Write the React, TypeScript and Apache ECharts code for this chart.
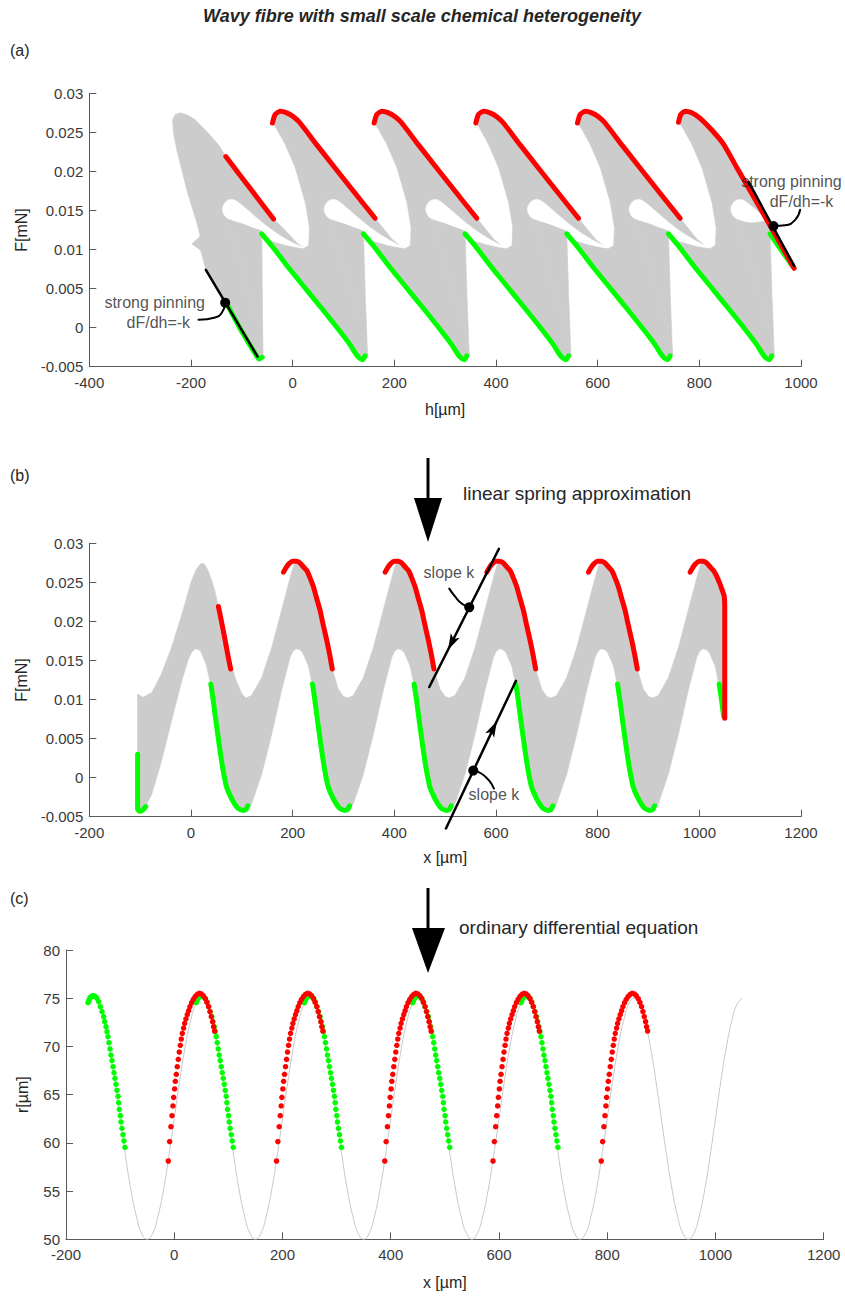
import React, { useEffect, useRef } from "react";
import * as echarts from "echarts";

type Pt = [number, number];

// ================= Panel (a): F [mN] vs h [µm] =================
const aUpperFirst: Pt[] = [
  [-170.7, 0.0074], [-181, 0.0099], [-198.3, 0.0107], [-182, 0.0117], [-188.4, 0.0134],
  [-198.3, 0.0155], [-208.1, 0.0176], [-218, 0.0202], [-227.8, 0.0227], [-234.3, 0.0249],
  [-236.3, 0.0266], [-231, 0.0273], [-221, 0.0275], [-206, 0.0272], [-191.7, 0.0266],
  [-165.5, 0.0249], [-145.8, 0.0234], [-131.4, 0.0219], [-84.5, 0.0179], [-37.6, 0.0139],
  [-19.7, 0.0128], [10.8, 0.0107],
];
const aUpperLobe: Pt[] = [
  [23, 0.0102], [31.5, 0.0105], [33, 0.0128], [25, 0.016], [5, 0.0205], [-15, 0.0235],
  [-32, 0.0255], [-39.7, 0.0262], [-34.4, 0.0273], [-24.6, 0.0277], [-11.5, 0.0275],
  [1.6, 0.027], [14.7, 0.0262], [47.5, 0.0234], [80.3, 0.0207], [113.1, 0.018],
  [162.3, 0.014], [195.8, 0.0113], [213.3, 0.0104],
];
const aUpperLast: Pt[] = [
  [823, 0.0102], [831.5, 0.0105], [833, 0.0128], [825, 0.016], [805, 0.0205], [785, 0.0235],
  [768, 0.0255], [759, 0.0263], [763.6, 0.0273], [772.1, 0.0277], [785.2, 0.0275],
  [801.6, 0.0268], [824.5, 0.0253], [847.5, 0.0235], [873.7, 0.0205], [906.5, 0.0168],
  [945.9, 0.0123], [986.5, 0.0076],
];
const aLowerFirst: Pt[] = [
  [-69.2, -0.0043], [-58.3, -0.0038], [-59.5, -0.0021], [-75.5, 0.0021], [-98.8, 0.0073],
  [-121.3, 0.0124], [-131.7, 0.0152], [-129.5, 0.0165], [-107.7, 0.0158], [-66.3, 0.0124],
  [-60.7, 0.012], [-37.7, 0.0102], [-5.9, 0.0075], [27.9, 0.0048], [60.6, 0.0022],
  [93.4, -0.0005], [113.1, -0.0022], [124.9, -0.0034], [131.5, -0.0039], [138, -0.0042],
];
const aLowerLobe: Pt[] = [
  [147.3, -0.0034], [135.7, 0.0004], [112.3, 0.0056], [85.5, 0.0111], [66.7, 0.0154],
  [69.5, 0.0165], [93.2, 0.0157], [133.7, 0.0124], [139.3, 0.012], [162.3, 0.0102],
  [194.1, 0.0075], [227.9, 0.0048], [260.6, 0.0022], [293.4, -0.0005], [313.1, -0.0022],
  [324.9, -0.0034], [331.5, -0.0039], [338, -0.0042],
];
const aLowerLast: Pt[] = [
  [947.3, -0.0034], [935.7, 0.0004], [912.3, 0.0056], [885.5, 0.0111], [866.7, 0.0154],
  [869.5, 0.0165], [893.2, 0.0157], [933.7, 0.0124], [939.3, 0.012], [960, 0.01], [986.5, 0.0076],
];
const aLobeShifts = [0, 200, 400, 600];

// gray fill between the fingers below each lobe, and the white teardrops inside the band
const aFillFirst: Pt[] = [
  [-69.2, -0.0043], [-59.5, -0.0021], [-75.5, 0.0021], [-98.8, 0.0073], [-121.3, 0.0124],
  [-131.7, 0.0152], [-129.5, 0.0165], [-107.7, 0.0158], [-66.3, 0.0124], [-60.7, 0.012],
  [-59.5, 0.004], [-58.3, -0.0038],
];
const aFillLobe: Pt[] = [
  [147.3, -0.0034], [135.7, 0.0004], [112.3, 0.0056], [85.5, 0.0111], [66.7, 0.0154],
  [69.5, 0.0165], [93.2, 0.0157], [133.7, 0.0124], [139.3, 0.012], [143, 0.004], [147.3, -0.0034],
];
const aFillShifts = [0, 200, 400, 600, 800];
const aTeardrop: Pt[] = [
  [62, 0.0152], [66, 0.0159], [73, 0.0163], [82, 0.0164], [92, 0.0161], [105, 0.0154],
  [130, 0.014], [155, 0.0127], [180, 0.0116], [205, 0.0107], [223, 0.0102], [200, 0.0104],
  [175, 0.0108], [150, 0.0114], [139, 0.0124], [120, 0.0129], [100, 0.0134], [85, 0.0137],
  [72, 0.014], [65, 0.0145],
];
const aTeardropShifts = [-200, 0, 200, 400, 600];
const aTeardropLast: Pt[] = [
  [862, 0.0152], [866, 0.0159], [873, 0.0163], [882, 0.0164], [892, 0.0161], [905, 0.0154],
  [922, 0.0145], [932, 0.0139], [918, 0.0136], [900, 0.0135], [885, 0.0137], [872, 0.014], [865, 0.0145],
];

const aRedFirst: Pt[] = [[-131.4, 0.0219], [-84.5, 0.0179], [-37.6, 0.0139]];
const aRedLobe: Pt[] = [
  [-39.7, 0.0262], [-34.4, 0.0273], [-24.6, 0.0277], [-11.5, 0.0275], [1.6, 0.027],
  [14.7, 0.0262], [47.5, 0.0234], [80.3, 0.0207], [113.1, 0.018], [162.3, 0.014],
];
const aRedLast: Pt[] = [
  [759, 0.0263], [763.6, 0.0273], [772.1, 0.0277], [785.2, 0.0275], [801.6, 0.0268],
  [824.5, 0.0253], [847.5, 0.0235], [873.7, 0.0205], [906.5, 0.0168], [945.9, 0.0123], [986.5, 0.0076],
];
const aRedShifts = [0, 200, 400, 600];
const aGreenFirst: Pt[] = [[-130, 0.0031], [-100, -0.0005], [-70, -0.0037], [-65, -0.004], [-60, -0.0038]];
const aGreenLobe: Pt[] = [
  [-60.7, 0.012], [-37.7, 0.0102], [-5.9, 0.0075], [27.9, 0.0048], [60.6, 0.0022],
  [93.4, -0.0005], [113.1, -0.0022], [124.9, -0.0034], [131.5, -0.0039], [138, -0.0041], [142.6, -0.0036],
];
const aGreenLast: Pt[] = [[939.3, 0.012], [955, 0.0105], [970, 0.0091], [983, 0.0079]];
const aGreenShifts = [0, 200, 400, 600, 800];

const aPinLeft: Pt[] = [[-170.7, 0.0074], [-69.1, -0.0037]];
const aPinRight: Pt[] = [[896.7, 0.0187], [986.5, 0.0079]];
const aPinDots: Pt[] = [[-132.7, 0.0032], [945.9, 0.013]];
const aLeaderLeft: Pt[] = [[-132.7, 0.0032], [-139.3, 0.0019], [-152.4, 0.0013], [-185.2, 0.001]];
const aLeaderRight: Pt[] = [[945.9, 0.013], [968.8, 0.0131], [988.5, 0.0138], [998.3, 0.0151]];

// ================= Panel (b): F [mN] vs x [µm] =================
const bUpperFirst: Pt[] = [
  [-105, 0.0107], [-94, 0.0103], [-77, 0.0109], [-58, 0.0133], [-38, 0.0167], [-18, 0.0209],
  [1, 0.0252], [10, 0.0266], [15, 0.0271], [20, 0.0274], [25, 0.0274], [30, 0.027], [35, 0.0263],
  [41, 0.0252], [47, 0.0239], [60, 0.0201], [73, 0.0162], [87, 0.0128], [100, 0.0107],
];
const bUpperHump: Pt[] = [
  [108, 0.0102], [119, 0.0105], [139, 0.0128], [159, 0.0167], [178, 0.0214], [195, 0.0256],
  [202, 0.0272], [207, 0.0276], [214, 0.0275], [228, 0.0266], [241, 0.0244], [254, 0.0215],
  [267, 0.0176], [278, 0.0139], [290, 0.0113], [300, 0.0104],
];
const bUpperLast: Pt[] = [
  [908, 0.0102], [919, 0.0105], [939, 0.0128], [959, 0.0167], [978, 0.0214], [995, 0.0256],
  [1002, 0.0272], [1007, 0.0276], [1014, 0.0275], [1028, 0.0266], [1040, 0.0248],
  [1047, 0.0236], [1050, 0.0228],
];
const bLowerFirst: Pt[] = [
  [-105, -0.0043], [-90, -0.0038], [-77, -0.0021], [-58, 0.0021], [-38, 0.0073], [-18, 0.0124],
  [-5, 0.0152], [1, 0.016], [8, 0.0165], [14, 0.0164], [19, 0.0162], [30, 0.0145], [37, 0.0124],
  [39, 0.012], [44, 0.0098], [50, 0.0068], [56, 0.004], [62, 0.0014], [70, -0.0012],
  [80, -0.0027], [92, -0.0039], [102, -0.0043],
];
const bLowerHump: Pt[] = [
  [110, -0.0042], [119, -0.0034], [139, 0.0004], [159, 0.0056], [178, 0.0111], [195, 0.0154],
  [201, 0.0162], [207, 0.0165], [213, 0.0164], [219, 0.0161], [231, 0.0143], [237, 0.0124],
  [239, 0.012], [244, 0.0098], [250, 0.0068], [256, 0.004], [262, 0.0014], [270, -0.0012],
  [280, -0.0027], [292, -0.0039], [302, -0.0043],
];
const bLowerLast: Pt[] = [
  [910, -0.0042], [919, -0.0034], [939, 0.0004], [959, 0.0056], [978, 0.0111], [995, 0.0154],
  [1001, 0.0162], [1007, 0.0165], [1013, 0.0164], [1019, 0.0161], [1031, 0.0143], [1037, 0.0124],
  [1039, 0.012], [1044, 0.0098], [1050, 0.0076],
];
const bHumpShifts = [0, 200, 400, 600];

const bRedFirst: Pt[] = [[54, 0.0219], [60, 0.02], [66, 0.018], [72, 0.0159], [78, 0.0139]];
const bRedHump: Pt[] = [
  [182, 0.0263], [187, 0.0269], [193, 0.0274], [200, 0.0277], [207, 0.0277], [214, 0.0275],
  [221, 0.027], [228, 0.0265], [234, 0.0256], [241, 0.0244], [247, 0.023], [254, 0.0214],
  [260, 0.0196], [267, 0.0176], [273, 0.0157], [278, 0.0139],
];
const bRedLast: Pt[] = [
  [982, 0.0263], [987, 0.0269], [993, 0.0274], [1000, 0.0277], [1007, 0.0277], [1014, 0.0275],
  [1021, 0.027], [1028, 0.0265], [1034, 0.0258], [1040, 0.0249], [1045, 0.024], [1049, 0.0232],
  [1050, 0.022], [1050, 0.0076],
];
const bRedShifts = [0, 200, 400, 600];
const bGreenFirst: Pt[] = [[-105, 0.003], [-105, -0.004], [-102, -0.0043], [-96, -0.0042], [-89, -0.0037]];
const bGreenHump: Pt[] = [
  [39, 0.012], [44, 0.0098], [50, 0.0068], [56, 0.004], [62, 0.0014], [70, -0.0012],
  [80, -0.0027], [92, -0.0039], [102, -0.0042], [108, -0.0041], [112, -0.0036],
];
const bGreenLast: Pt[] = [[1039, 0.012], [1044, 0.0098], [1048, 0.0078]];
const bGreenShifts = [0, 200, 400, 600, 800];

const bSlopeUpper: Pt[] = [[468.8, 0.0116], [605.8, 0.0293]];
const bSlopeLower: Pt[] = [[501.6, -0.0065], [639.3, 0.0124]];
const bSlopeDots: Pt[] = [[547.4, 0.0218], [555.3, 0.0009]];
const bArrowHeads = [
  { value: [512.8, 0.0173], symbolRotate: 153 },
  { value: [594.6, 0.0063], symbolRotate: -27 },
];
const bLeaderUpper: Pt[] = [[547.4, 0.0218], [532.4, 0.0223], [519.3, 0.0232], [508.1, 0.0242]];
const bLeaderLower: Pt[] = [[555.3, 0.0009], [571.8, 0.0005], [588.1, -0.0005], [596, -0.0014]];

// ================= Panel (c): r [µm] vs x [µm] =================
const fibreX0 = -160;
const fibreStep = 10;
const fibreR = [
  74.4, 75, 74.4, 72.6, 69.9, 66.4, 62.5, 58.6, 55.1, 52.4, 50.6, 50, 50.6, 52.4, 55.1, 58.6, 62.5, 66.4, 69.9, 72.6,
  74.4, 75, 74.4, 72.6, 69.9, 66.4, 62.5, 58.6, 55.1, 52.4, 50.6, 50, 50.6, 52.4, 55.1, 58.6, 62.5, 66.4, 69.9, 72.6,
  74.4, 75, 74.4, 72.6, 69.9, 66.4, 62.5, 58.6, 55.1, 52.4, 50.6, 50, 50.6, 52.4, 55.1, 58.6, 62.5, 66.4, 69.9, 72.6,
  74.4, 75, 74.4, 72.6, 69.9, 66.4, 62.5, 58.6, 55.1, 52.4, 50.6, 50, 50.6, 52.4, 55.1, 58.6, 62.5, 66.4, 69.9, 72.6,
  74.4, 75, 74.4, 72.6, 69.9, 66.4, 62.5, 58.6, 55.1, 52.4, 50.6, 50, 50.6, 52.4, 55.1, 58.6, 62.5, 66.4, 69.9, 72.6,
  74.4, 75, 74.4, 72.6, 69.9, 66.4, 62.5, 58.6, 55.1, 52.4, 50.6, 50, 50.6, 52.4, 55.1, 58.6, 62.5, 66.4, 69.9, 72.6,
  74.4, 75,
];
const greenArc: Pt[] = [
  [-9.4, 74.54], [-8, 74.75], [-6.5, 74.95], [-5, 75.08], [-3.5, 75.17], [-2, 75.22], [0, 75.25],
  [2.3, 75.23], [4.5, 75.15], [7.3, 74.99], [10.3, 74.64], [13.4, 74.12], [16.5, 73.61], [19.6, 73.09],
  [21.4, 72.57], [23.9, 72.05], [25.7, 71.53], [27.6, 71.01], [29.4, 70.39], [31.3, 69.74], [33.1, 69.11],
  [35, 68.53], [36.8, 67.9], [38.7, 67.28], [40.5, 66.69], [42.4, 66.07], [44.2, 65.45], [46.1, 64.83],
  [47.3, 64.17], [48.5, 63.48], [50.4, 62.82], [51.6, 62.17], [53.4, 61.51], [55.3, 60.85], [57.1, 60.2],
  [59, 59.54],
];
const greenPeaks = [-150, 50, 250, 450, 650];
const redArc: Pt[] = [
  [-61, 58.12], [-58.5, 60.13], [-56.1, 61.68], [-54.2, 62.82], [-52.4, 63.83], [-51.1, 64.72],
  [-49.3, 65.59], [-48, 66.38], [-46.2, 67.11], [-44.4, 67.9], [-42.5, 68.66], [-40.7, 69.42],
  [-38.8, 70.12], [-37, 70.77], [-35.1, 71.36], [-32.7, 71.91], [-30.8, 72.4], [-28.4, 72.85],
  [-25.9, 73.3], [-23.4, 73.71], [-21, 74.13], [-17.9, 74.54], [-14.8, 74.88], [-11.1, 75.2],
  [-7.4, 75.4], [-3.7, 75.51], [0, 75.44], [3.7, 75.26], [7.4, 74.95], [10.4, 74.57], [13.5, 74.13],
  [16, 73.61], [18.4, 73.09], [20.9, 72.57], [22.7, 72.05], [24.6, 71.6],
];
const redPeaks = [50, 250, 450, 650, 850];

// ================= helpers =================
const FONT = "'Liberation Sans', Arial, Helvetica, sans-serif";
const INK = "#262626";
const AXC = "#5a5a5a";
const GRAY = "#cccccc";
const RED = "#ff0000";
const GREEN = "#00ff00";

const shiftPts = (pts: Pt[], dx: number): Pt[] => pts.map((p) => [p[0] + dx, p[1]] as Pt);
const repeatPts = (pts: Pt[], shifts: number[]): Pt[] => shifts.flatMap((s) => shiftPts(pts, s));

function polygonSeries(idx: number, polys: Pt[][], color: string, z = 1, smooth = 0) {
  return {
    type: "custom",
    xAxisIndex: idx,
    yAxisIndex: idx,
    silent: true,
    z,
    data: [[polys[0][0][0], polys[0][0][1]]],
    renderItem: (_params: any, api: any) => ({
      type: "group",
      children: polys.map((pts) => ({
        type: "polygon",
        shape: { points: pts.map((p) => api.coord(p)), smooth },
        style: { fill: color, stroke: color, lineWidth: 0.6 },
      })),
    }),
  };
}

function lineSeries(idx: number, data: Pt[], color: string, width: number, z = 3, extra: any = {}) {
  return {
    type: "line",
    xAxisIndex: idx,
    yAxisIndex: idx,
    data,
    symbol: "none",
    showSymbol: false,
    silent: true,
    z,
    smooth: 0.2,
    lineStyle: { color, width, cap: "round", join: "round" },
    ...extra,
  };
}

function textSeries(idx: number, items: { value: Pt; text: string; pos?: string }[]) {
  return {
    type: "scatter",
    xAxisIndex: idx,
    yAxisIndex: idx,
    silent: true,
    clip: false,
    z: 8,
    symbolSize: 1,
    itemStyle: { color: "rgba(0,0,0,0)" },
    data: items.map((it) => ({
      value: it.value,
      label: {
        show: true,
        formatter: it.text,
        position: it.pos || "inside",
        distance: 0,
        fontSize: 16,
        color: INK,
        fontFamily: FONT,
      },
    })),
  };
}

function xAx(gridIndex: number, min: number, max: number, name: string, nameGap: number) {
  return {
    type: "value",
    gridIndex,
    min,
    max,
    interval: 200,
    name,
    nameLocation: "middle",
    nameGap,
    nameTextStyle: { fontSize: 16, color: INK, fontFamily: FONT },
    axisLine: { onZero: false, lineStyle: { color: AXC, width: 1 } },
    axisTick: { inside: true, length: 7, lineStyle: { color: AXC } },
    axisLabel: {
      fontSize: 15, color: "#3a3a3a", fontFamily: FONT, margin: 8,
      showMinLabel: true, showMaxLabel: true, hideOverlap: false,
      formatter: (v: number) => String(v),
    },
    splitLine: { show: false },
  };
}

function yAx(gridIndex: number, min: number, max: number, interval: number, name: string, nameGap: number) {
  return {
    type: "value",
    gridIndex,
    min,
    max,
    interval,
    name,
    nameLocation: "middle",
    nameGap,
    nameTextStyle: { fontSize: 16, color: INK, fontFamily: FONT },
    axisLine: { onZero: false, lineStyle: { color: AXC, width: 1 } },
    axisTick: { inside: true, length: 7, lineStyle: { color: AXC } },
    axisLabel: {
      fontSize: 15, color: "#3a3a3a", fontFamily: FONT, margin: 6,
      showMinLabel: true, showMaxLabel: true, hideOverlap: false,
      formatter: (v: number) => String(Number(v.toFixed(4))),
    },
    splitLine: { show: false },
  };
}

function buildOption() {
  const polyA: Pt[] = [
    ...aUpperFirst,
    ...repeatPts(aUpperLobe, aLobeShifts),
    ...aUpperLast,
    ...[...aLowerFirst, ...repeatPts(aLowerLobe, aLobeShifts), ...aLowerLast].reverse(),
  ];
  const fillA: Pt[][] = [aFillFirst, ...aFillShifts.map((s) => shiftPts(aFillLobe, s))];
  const dropsA: Pt[][] = [...aTeardropShifts.map((s) => shiftPts(aTeardrop, s)), aTeardropLast];
  const polyB: Pt[] = [
    ...bUpperFirst,
    ...repeatPts(bUpperHump, bHumpShifts),
    ...bUpperLast,
    ...[...bLowerFirst, ...repeatPts(bLowerHump, bHumpShifts), ...bLowerLast].reverse(),
  ];

  const series: any[] = [];
  // ---- (a)
  series.push(polygonSeries(0, [polyA], GRAY, 1));
  series.push(polygonSeries(0, fillA, GRAY, 1));
  series.push(polygonSeries(0, dropsA, "#ffffff", 2, 0.35));
  series.push(lineSeries(0, aGreenFirst, GREEN, 5));
  aGreenShifts.forEach((s) => series.push(lineSeries(0, shiftPts(aGreenLobe, s), GREEN, 5)));
  series.push(lineSeries(0, aGreenLast, GREEN, 5));
  series.push(lineSeries(0, aRedFirst, RED, 5, 4));
  aRedShifts.forEach((s) => series.push(lineSeries(0, shiftPts(aRedLobe, s), RED, 5, 4)));
  series.push(lineSeries(0, aRedLast, RED, 5, 4));
  series.push(lineSeries(0, aPinLeft, "#000", 2.5, 6, { smooth: false }));
  series.push(lineSeries(0, aPinRight, "#000", 2.5, 6, { smooth: false }));
  series.push(lineSeries(0, aLeaderLeft, "#000", 2, 6, { smooth: 0.5 }));
  series.push(lineSeries(0, aLeaderRight, "#000", 2, 6, { smooth: 0.5 }));
  series.push({
    type: "scatter", xAxisIndex: 0, yAxisIndex: 0, silent: true, z: 7,
    data: aPinDots, symbolSize: 10, itemStyle: { color: "#000", opacity: 1 },
  });
  series.push(textSeries(0, [
    { value: [-271.4, 0.00328], text: "strong pinning" },
    { value: [-264.2, 0.00063], text: "dF/dh=-k" },
    { value: [1081, 0.01877], text: "strong pinning", pos: "left" },
    { value: [1001, 0.01612], text: "dF/dh=-k" },
  ]));

  // ---- (b)
  series.push(polygonSeries(1, [polyB], GRAY, 1));
  series.push(lineSeries(1, bGreenFirst, GREEN, 5));
  bGreenShifts.forEach((s) => series.push(lineSeries(1, shiftPts(bGreenHump, s), GREEN, 5)));
  series.push(lineSeries(1, bGreenLast, GREEN, 5));
  series.push(lineSeries(1, bRedFirst, RED, 5, 4));
  bRedShifts.forEach((s) => series.push(lineSeries(1, shiftPts(bRedHump, s), RED, 5, 4)));
  series.push(lineSeries(1, bRedLast, RED, 5, 4));
  series.push(lineSeries(1, bSlopeUpper, "#000", 2.5, 6, { smooth: false, clip: false }));
  series.push(lineSeries(1, bSlopeLower, "#000", 2.5, 6, { smooth: false, clip: false }));
  series.push(lineSeries(1, bLeaderUpper, "#000", 2, 6, { smooth: 0.5 }));
  series.push(lineSeries(1, bLeaderLower, "#000", 2, 6, { smooth: 0.5 }));
  series.push({
    type: "scatter", xAxisIndex: 1, yAxisIndex: 1, silent: true, z: 7,
    data: bSlopeDots, symbolSize: 10, itemStyle: { color: "#000", opacity: 1 },
  });
  series.push({
    type: "scatter", xAxisIndex: 1, yAxisIndex: 1, silent: true, z: 7,
    data: bArrowHeads, symbol: "path://M0,0 L6,16 L0,12 L-6,16 Z", symbolSize: [10, 16],
    itemStyle: { color: "#000", opacity: 1 },
  });
  series.push(textSeries(1, [
    { value: [507.5, 0.0263], text: "slope k" },
    { value: [596, -0.0022], text: "slope k" },
  ]));

  // ---- (c)
  series.push({
    type: "line", xAxisIndex: 2, yAxisIndex: 2, silent: true, z: 2,
    data: fibreR.map((r, i) => [fibreX0 + i * fibreStep, r]),
    symbol: "none", showSymbol: false, smooth: true,
    lineStyle: { color: "#c8c8c8", width: 1 },
  });
  series.push({
    type: "scatter", xAxisIndex: 2, yAxisIndex: 2, silent: true, z: 3,
    data: greenPeaks.flatMap((p) => shiftPts(greenArc, p)),
    symbolSize: 5.5, itemStyle: { color: GREEN, opacity: 1 },
  });
  series.push({
    type: "scatter", xAxisIndex: 2, yAxisIndex: 2, silent: true, z: 4,
    data: redPeaks.flatMap((p) => shiftPts(redArc, p)),
    symbolSize: 5.5, itemStyle: { color: RED, opacity: 1 },
  });

  const txt = (x: number, y: number, text: string, size: number, extra: any = {}) => ({
    type: "text", x, y, silent: true,
    style: { text, fill: INK, fontSize: size, fontFamily: FONT, align: "left", verticalAlign: "middle", ...extra },
  });

  return {
    animation: false,
    backgroundColor: "#ffffff",
    grid: [
      { left: 89.3, top: 93.3, width: 711.7, height: 273.4, outerBoundsMode: "none" },
      { left: 89.3, top: 543.3, width: 711.7, height: 273.4, outerBoundsMode: "none" },
      { left: 66, top: 950, width: 757.7, height: 289.3, outerBoundsMode: "none" },
    ],
    xAxis: [
      xAx(0, -400, 1000, "h[µm]", 35),
      xAx(1, -200, 1200, "x [µm]", 33),
      xAx(2, -200, 1200, "x [µm]", 35),
    ],
    yAxis: [
      yAx(0, -0.005, 0.03, 0.005, "F[mN]", 59),
      yAx(1, -0.005, 0.03, 0.005, "F[mN]", 59),
      yAx(2, 50, 80, 5, "r[µm]", 36),
    ],
    series,
    graphic: [
      txt(422, 16, "Wavy fibre with small scale chemical heterogeneity", 18, {
        align: "center", fontWeight: "bold", fontStyle: "italic",
      }),
      txt(10, 50, "(a)", 16),
      txt(10, 475, "(b)", 16),
      txt(10, 898, "(c)", 16),
      { type: "line", silent: true, shape: { x1: 428, y1: 458, x2: 428, y2: 505 }, style: { stroke: "#000", lineWidth: 3 } },
      { type: "polygon", silent: true, shape: { points: [[414, 498], [442, 498], [428, 542]] }, style: { fill: "#000" } },
      txt(463, 493, "linear spring approximation", 19),
      { type: "line", silent: true, shape: { x1: 428, y1: 888, x2: 428, y2: 935 }, style: { stroke: "#000", lineWidth: 3 } },
      { type: "polygon", silent: true, shape: { points: [[412, 928], [445, 928], [428, 973]] }, style: { fill: "#000" } },
      txt(459, 927, "ordinary differential equation", 19),
    ],
  };
}

export default function App() {
  const ref = useRef<HTMLDivElement | null>(null);
  useEffect(() => {
    if (!ref.current) return;
    const chart = echarts.init(ref.current, undefined, { renderer: "svg" });
    chart.setOption(buildOption() as any);
    return () => chart.dispose();
  }, []);
  return (
    <div
      ref={ref}
      style={{ position: "absolute", left: 0, top: 0, width: 845, height: 1296, background: "#fff" }}
    />
  );
}
